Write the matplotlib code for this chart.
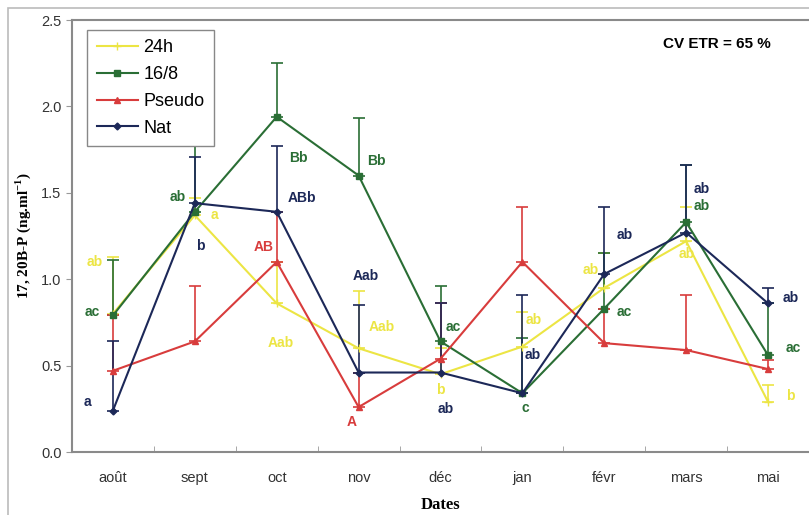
import matplotlib.pyplot as plt
from matplotlib.patches import Rectangle
from matplotlib.lines import Line2D

# months (x categories)
months = ['août', 'sept', 'oct', 'nov', 'déc', 'jan', 'févr', 'mars', 'mai']

# mean values
h24 = [0.80, 1.37, 0.86, 0.60, 0.45, 0.61, 0.95, 1.22, 0.29]
h168 = [0.79, 1.39, 1.94, 1.60, 0.64, 0.34, 0.83, 1.33, 0.56]
pseudo = [0.47, 0.64, 1.10, 0.26, 0.54, 1.10, 0.63, 0.59, 0.48]
nat = [0.24, 1.44, 1.39, 0.46, 0.46, 0.34, 1.03, 1.27, 0.86]

# upper error bars
h24_err = [0.33, 0.10, 0.24, 0.33, 0.15, 0.20, 0.20, 0.20, 0.10]
h168_err = [0.32, 0.45, 0.31, 0.33, 0.32, 0.32, 0.32, 0.33, 0.30]
pseudo_err = [0.32, 0.32, 0.29, 0.20, 0.32, 0.32, 0.20, 0.32, 0.05]
nat_err = [0.40, 0.27, 0.38, 0.39, 0.40, 0.57, 0.39, 0.39, 0.09]

# significance letters
h24_lab = ['ab', 'a', 'Aab', 'Aab', 'b', 'ab', 'ab', 'ab', 'b']
h168_lab = ['ac', 'ab', 'Bb', 'Bb', 'ac', 'c', 'ac', 'ab', 'ac']
pseudo_lab = ['', '', 'AB', 'A', '', '', '', '', '']
nat_lab = ['a', 'b', 'ABb', 'Aab', 'ab', 'ab', 'ab', 'ab', 'ab']

# label offsets in pixels (dx, dy), dy positive = up
h24_off = [(-18, 52), (20, 0), (4, -40), (23, 21), (0, -16), (11, 27), (-14, 18), (1, -13), (22, 6)]
h168_off = [(-21, 3), (-17, 15), (22, -41), (18, 15), (13, 14), (3, -15), (20, -3), (16, 16), (25, 7)]
pseudo_off = [(0, 0), (0, 0), (-13, 15), (-7, -15), (0, 0), (0, 0), (0, 0), (0, 0), (0, 0)]
nat_off = [(-26, 9), (5, -43), (25, 14), (7, 97), (5, -36), (10, 38), (20, 39), (16, 44), (23, 5)]

c_yel = '#ece544'
c_grn = '#2a6e35'
c_red = '#d83c3c'
c_nav = '#1c2858'

fig = plt.figure(figsize=(8.09, 5.15), dpi=100)
fig.patches.append(Rectangle((8 / 809, -0.1), 1.2, 1.1 - 8 / 515, transform=fig.transFigure,
                             fill=False, edgecolor='#bbbbbb', linewidth=1.2))
ax = fig.add_axes([72 / 809, 1 - 452 / 515, (809 - 72) / 809, 432 / 515])

x = list(range(len(months)))
series = [
    ('24h', h24, h24_err, h24_lab, h24_off, c_yel, '+', 6),
    ('16/8', h168, h168_err, h168_lab, h168_off, c_grn, 's', 4),
    ('Pseudo', pseudo, pseudo_err, pseudo_lab, pseudo_off, c_red, '^', 5),
    ('Nat', nat, nat_err, nat_lab, nat_off, c_nav, 'D', 3.5),
]

handles = []
for name, vals, err, labs, offs, col, mk, ms in series:
    ax.errorbar(x, vals, yerr=[[0] * len(vals), err], color=col, marker=mk, markersize=ms,
                linewidth=1.5, elinewidth=1.2, capsize=4, capthick=1.2)
    handles.append(Line2D([], [], color=col, marker=mk, markersize=ms, linewidth=1.5, label=name))
    for i, (t, (dx, dy)) in enumerate(zip(labs, offs)):
        if t:
            ax.annotate(t, (i, vals[i]), xytext=(dx, dy), textcoords='offset pixels',
                        ha='center', va='center', color=col, fontsize=10,
                        fontweight='bold', family='Liberation Sans')

ax.set_xlim(-0.5, 8.46)
ax.set_ylim(0, 2.5)
ax.set_yticks([0, 0.5, 1.0, 1.5, 2.0, 2.5])
ax.set_yticklabels(['0.0', '0.5', '1.0', '1.5', '2.0', '2.5'], family='Liberation Sans',
                   fontsize=10.5, color='#333333')
ax.set_xticks(x)
ax.set_xticklabels(months, family='Liberation Sans', fontsize=10.5, color='#333333')
ax.set_xticks([i + 0.5 for i in range(-1, 9)], minor=True)
ax.tick_params(axis='x', which='major', length=0, pad=14)
ax.tick_params(axis='x', which='minor', length=4, direction='in', color='#999999')
ax.tick_params(axis='y', length=4, direction='out', color='#999999')

for s in ['left', 'bottom', 'top']:
    ax.spines[s].set_color('#8a8a8a')
    ax.spines[s].set_linewidth(1.5)
ax.spines['right'].set_visible(False)

ax.set_xlabel('Dates', family='Liberation Serif', fontweight='bold', fontsize=12, labelpad=8)
ax.set_ylabel('17, 20B-P (ng.ml$^{\\mathregular{-1}}$)', family='Liberation Serif',
              fontweight='bold', fontsize=11, labelpad=6)

leg = ax.legend(handles=handles, loc='upper left', bbox_to_anchor=(0.021, 0.977), frameon=True,
                fancybox=False, edgecolor='#888888', prop={'family': 'Liberation Sans', 'size': 13},
                handlelength=2.3, handletextpad=0.3, borderpad=0.5, labelspacing=0.55,
                borderaxespad=0, framealpha=1)
leg.set_zorder(10)

ax.text(0.875, 0.945, 'CV ETR = 65 %', transform=ax.transAxes, ha='center', va='center',
        family='Liberation Sans', fontweight='bold', fontsize=11)

fig.savefig('out.png', dpi=100)
